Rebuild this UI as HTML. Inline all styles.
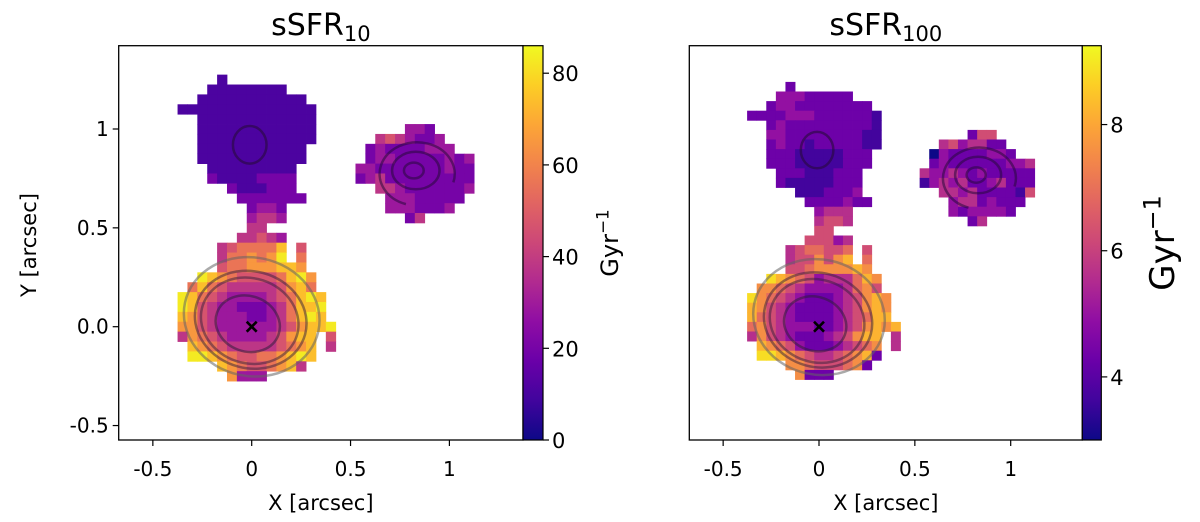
<!DOCTYPE html>
<html><head><meta charset="utf-8">
<style>
html,body{margin:0;padding:0;background:#fff;}
svg{display:block;font-family:"DejaVu Sans","Liberation Sans",sans-serif;}
</style></head>
<body>
<svg id="fig" width="1200" height="522" viewBox="0 0 1200 522"></svg>
<script>
// ---- data ----
const cellSize = 0.05;
const leftRange = [0, 86];
const leftStep = 9;      // value = digit*9
const leftBase = 2;
const rightRange = [3, 9.25];
const rightStep = 0.65;  // value = 3 + digit*0.65
const rightBase = 3;
const leftCbTicks = [0, 20, 40, 60, 80];
const rightCbTicks = [4, 6, 8];
const xTicks = [-0.5, 0, 0.5, 1];
const xTickLabels = ["-0.5", "0", "0.5", "1"];
const yTicks = [1, 0.5, 0, -0.5];
const yTickLabels = ["1", "0.5", "0.0", "-0.5"];
// rows: [row j, start column i, digit codes]
const leftRows = [
[25,-3,"1"],[24,-4,"11111111"],[23,-5,"11111111111"],[22,-7,"11111111111111"],
[21,-5,"111111111111"],[20,-5,"111111111111"],[20,16,"332"],
[19,-5,"111111111111"],[19,13,"4543223"],
[18,-5,"11111111111"],[18,12,"232222333"],
[17,-5,"11111111111"],[17,12,"23322222323"],
[16,-4,"111111111"],[16,11,"332222222322"],
[15,-4,"211112222"],[15,11,"234222222222"],
[14,-2,"2111222"],[14,13,"4432222223"],
[13,-1,"2222222"],[13,14,"33322222"],
[12,0,"2332"],[12,14,"3332223"],
[11,0,"3443"],[11,16,"24"],
[10,0,"44"],[9,-1,"44543"],
[8,-3,"4566668"],[8,5,"5"],
[7,-3,"4667679"],[7,5,"6"],
[6,-3,"566777887"],
[5,-5,"987655556897"],
[4,-6,"6865444445786"],
[3,-7,"986543333456898"],
[2,-7,"985433222346889"],
[1,-7,"875433322346898"],
[0,-7,"7754333333457889"],
[-1,-7,"47654333345788"],[-1,8,"5"],
[-2,-6,"8765444445678"],[-2,8,"4"],
[-3,-6,"9987655667898"],
[-4,-3,"876556784"],
[-5,-2,"7333"]
];
const rightRows = [
[25,-3,"2"],[24,-4,"33322222"],[23,-5,"23322222222"],[22,-7,"22223332222221"],
[21,-5,"232222222221"],[20,-5,"332222222211"],[20,16,"255"],
[19,-5,"232212222211"],[19,13,"4534422"],
[18,-5,"22211111222"],[18,12,"032222332"],
[17,-5,"22211111222"],[17,12,"23222222334"],
[16,-4,"222111222"],[16,11,"433432322222"],
[15,-4,"211111222"],[15,11,"134342234222"],
[14,-2,"1112223"],[14,13,"4434222215"],
[13,-1,"2222322"],[13,14,"34423222"],
[12,0,"3444"],[12,14,"3233332"],
[11,0,"4554"],[11,16,"24"],
[10,0,"55"],[9,-1,"55534"],
[8,-3,"4566556"],[8,5,"5"],
[7,-3,"4557578"],[7,5,"6"],
[6,-3,"556777787"],
[5,-5,"987653444687"],
[4,-6,"7765433334675"],
[3,-7,"976543222345787"],
[2,-7,"875432222345787"],
[1,-7,"865432222345688"],
[0,-7,"6754333223457878"],
[-1,-7,"47543222345788"],[-1,8,"4"],
[-2,-6,"8765322234567"],[-2,8,"4"],
[-3,-6,"9987654456782"],
[-4,-3,"776555672"],
[-5,-2,"7222"]
];
// contours: [cx, cy, rx, ry, rotation deg, color]
const contours = [
[-0.02,0.015,0.165,0.14,20,"rgba(50,30,60,0.55)"],
[-0.01,0.03,0.25,0.215,18,"rgba(50,30,60,0.5)"],
[-0.005,0.035,0.285,0.245,15,"rgba(50,30,60,0.5)"],
[0.0,0.05,0.345,0.3,12,"rgba(100,100,100,0.55)"],
[-0.01,0.92,0.085,0.095,0,"rgba(40,10,60,0.6)"],
[0.82,0.79,0.05,0.04,0,"rgba(40,10,60,0.55)"],
[0.83,0.79,0.12,0.095,0,"rgba(40,10,60,0.55)"]
];

// ---- helpers ----
const NS="http://www.w3.org/2000/svg";
const svg=document.getElementById('fig');
function mk(tag,attrs,parent){const e=document.createElementNS(NS,tag);for(const k in attrs)e.setAttribute(k,attrs[k]);(parent||svg).appendChild(e);return e;}
const plasma=["#0d0887","#41049d","#6a00a8","#8f0da4","#b12a90","#cc4778","#e16462","#f2844b","#fca636","#fcce25","#f0f921"];
function hex(h){return [parseInt(h.slice(1,3),16),parseInt(h.slice(3,5),16),parseInt(h.slice(5,7),16)];}
function cmap(t){t=Math.max(0,Math.min(1,t));const p=t*10,i=Math.min(9,Math.floor(p)),f=p-i;const a=hex(plasma[i]),b=hex(plasma[i+1]);return "rgb("+a.map((v,k)=>Math.round(v+(b[k]-v)*f)).join(",")+")";}

const panels=[
 {name:"ssfr10",title:"sSFR",sub:"10",x0:118.7,x1:523,xz:251.7,sx:197.7,sy:197.7,rows:leftRows,range:leftRange,base:leftBase,step:leftStep,cbx:523,cbw:20,ticks:leftCbTicks,yaxis:true,cbLabelX:618,cbFont:24},
 {name:"ssfr100",title:"sSFR",sub:"100",x0:689.3,x1:1082.3,xz:819,sx:191.7,sy:192,rows:rightRows,range:rightRange,base:rightBase,step:rightStep,cbx:1082.3,cbw:19,ticks:rightCbTicks,yaxis:false,cbLabelX:1174,cbFont:34}
];
const yTop=45.7,yBot=440,yz=326.7;

panels.forEach((P,pi)=>{
 const g=mk('g',{});
 
 
 const X=v=>P.xz+v*P.sx, Y=v=>yz-v*P.sy;
 const cp=mk('clipPath',{id:'clip'+pi},g);mk('rect',{x:P.x0,y:yTop,width:P.x1-P.x0,height:yBot-yTop},cp);
 const img=mk('g',{'clip-path':'url(#clip'+pi+')'},g);
 
 
 P.rows.forEach(r=>{
  const j=r[0],i0=r[1],s=r[2];
  for(let k=0;k<s.length;k++){
   const d=+s[k];const val=P.base+d*P.step;
   const i=i0+k;
   const x=X((i-0.5)*cellSize),y=Y((j+0.5)*cellSize);
   const w=X((i+0.5)*cellSize)-x,h=Y((j-0.5)*cellSize)-y;
   const c=mk('rect',{x:x.toFixed(2),y:y.toFixed(2),width:(w+0.4).toFixed(2),height:(h+0.4).toFixed(2),fill:cmap((val-P.range[0])/(P.range[1]-P.range[0]))},img);
   
   
  }
 });
 contours.forEach(cn=>{
  const e=mk('ellipse',{cx:X(cn[0]),cy:Y(cn[1]),rx:cn[2]*P.sx,ry:cn[3]*P.sy,transform:'rotate('+cn[4]+' '+X(cn[0])+' '+Y(cn[1])+')',fill:'none',stroke:cn[5],'stroke-width':2.5},img);
  
  
 });
 const arc=mk('path',{d:`M ${X(0.78)} ${Y(0.62)} A ${0.19*P.sx} ${0.16*P.sy} 0 1 1 ${X(1.02)} ${Y(0.73)}`,fill:'none',stroke:'rgba(40,10,60,0.55)','stroke-width':2.5},img);
 
 
 const mg=mk('g',{stroke:'#000','stroke-width':2.6},g);
 
 
 mk('line',{x1:X(0)-5,y1:Y(0)-5,x2:X(0)+5,y2:Y(0)+5},mg);
 mk('line',{x1:X(0)-5,y1:Y(0)+5,x2:X(0)+5,y2:Y(0)-5},mg);
 const fr=mk('rect',{x:P.x0,y:yTop,width:P.x1-P.x0,height:yBot-yTop,fill:'none',stroke:'#000','stroke-width':1.3},g);
 
 
 xTicks.forEach((t,k)=>{
  mk('line',{x1:X(t),x2:X(t),y1:yBot,y2:yBot+6,stroke:'#000','stroke-width':1.2},g);
  const tl=mk('text',{x:X(t),y:476,'text-anchor':'middle','font-size':20},g);
  tl.textContent=xTickLabels[k];
  
  
 });
 const xl=mk('text',{x:(P.x0+P.x1)/2,y:510,'text-anchor':'middle','font-size':21},g);
 xl.textContent='X [arcsec]';
 
 
 if(P.yaxis){
  yTicks.forEach((t,k)=>{
   mk('line',{x1:P.x0-6,x2:P.x0,y1:Y(t),y2:Y(t),stroke:'#000','stroke-width':1.2},g);
   const tl=mk('text',{x:P.x0-10,y:Y(t)+7,'text-anchor':'end','font-size':20},g);
   tl.textContent=yTickLabels[k];
   
   
  });
  const yl=mk('text',{x:0,y:0,'text-anchor':'middle','font-size':21,transform:'translate(36,245) rotate(-90)'},g);
  yl.textContent='Y [arcsec]';
  
  
 }
 const tt=mk('text',{x:(P.x0+P.x1)/2,y:35,'text-anchor':'middle','font-size':30},g);
 
 
 tt.appendChild(document.createTextNode(P.title));
 const ts=mk('tspan',{'font-size':21,dy:6},tt);ts.textContent=P.sub;
 const gid='cbg'+pi;
 const lg=mk('linearGradient',{id:gid,x1:0,y1:1,x2:0,y2:0},g);
 plasma.forEach((c,k)=>mk('stop',{offset:k/10,'stop-color':c},lg));
 const cb=mk('rect',{x:P.cbx,y:yTop,width:P.cbw,height:yBot-yTop,fill:'url(#'+gid+')',stroke:'#000','stroke-width':1.2},g);
 
 
 const CY=v=>yBot-(v-P.range[0])/(P.range[1]-P.range[0])*(yBot-yTop);
 P.ticks.forEach(t=>{
  mk('line',{x1:P.cbx+P.cbw,x2:P.cbx+P.cbw+6,y1:CY(t),y2:CY(t),stroke:'#000','stroke-width':1.2},g);
  const tl=mk('text',{x:P.cbx+P.cbw+9,y:CY(t)+8,'font-size':21},g);
  tl.textContent=String(t);
  
  
 });
 const cl=mk('text',{x:0,y:0,'text-anchor':'middle','font-size':P.cbFont,transform:`translate(${P.cbLabelX},243) rotate(-90)`},g);
 
 
 cl.appendChild(document.createTextNode('Gyr'));
 const sp=mk('tspan',{'font-size':P.cbFont*0.7,dy:-P.cbFont*0.4},cl);sp.textContent='−1';
});
</script>
</body></html>
